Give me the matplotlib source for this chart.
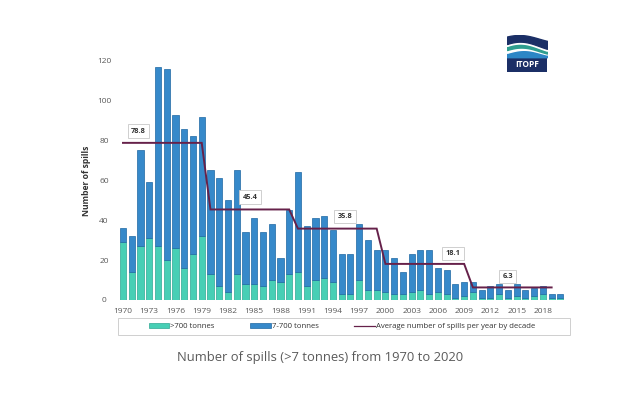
import matplotlib
matplotlib.use("Agg")
import matplotlib.pyplot as plt
from matplotlib.patches import Patch, Rectangle
from matplotlib.lines import Line2D
import numpy as np

plt.rcParams['font.family'] = ['Open Sans', 'DejaVu Sans']

years = list(range(1970, 2021))
totals = [36, 32, 75, 59, 117, 116, 93, 86, 82, 92,
          65, 61, 50, 65, 34, 41, 34, 38, 21, 45,
          64, 37, 41, 42, 35, 23, 23, 38, 30, 25,
          25, 21, 14, 23, 25, 25, 16, 15, 8, 9,
          9, 5, 7, 8, 5, 8, 5, 6, 7, 3,
          3]
large = [29, 14, 27, 31, 27, 20, 26, 16, 23, 32,
         13, 7, 4, 13, 8, 8, 7, 10, 9, 13,
         14, 7, 10, 11, 9, 3, 3, 10, 5, 5,
         4, 3, 3, 4, 5, 3, 4, 3, 1, 2,
         4, 1, 1, 3, 1, 2, 1, 2, 3, 1,
         1]
medium = [t - l for t, l in zip(totals, large)]

decade_starts = [1970, 1980, 1990, 2000, 2010]
decade_avgs = [78.8, 45.4, 35.8, 18.1, 6.3]
label_x = [1971.75, 1984.5, 1995.4, 2007.75, 2014.0]
label_y = [84.7, 51.5, 41.8, 23.4, 11.7]

xtick_years = list(range(1970, 2019, 3))
yticks = [0, 20, 40, 60, 80, 100, 120]

teal = '#47CFB5'
teal_edge = '#2FA893'
blue = '#3689CA'
blue_edge = '#1E68A3'
wine = '#66214A'
gray = '#595959'

fig = plt.figure(figsize=(6.4, 4.03), dpi=100)
W, H = 640, 403
ax = fig.add_axes([118 / W, 1 - 300 / H, (570 - 118) / W, (300 - 60.7) / H])

ax.bar(years, large, width=0.7, color=teal, edgecolor=teal_edge, linewidth=0.5)
ax.bar(years, medium, bottom=large, width=0.7, color=blue, edgecolor=blue_edge, linewidth=0.5)

avg_x, avg_y = [], []
for s, a in zip(decade_starts, decade_avgs):
    for y in range(s, s + 10):
        avg_x.append(y)
        avg_y.append(a)
ax.plot(avg_x, avg_y, color=wine, lw=1.4, solid_joinstyle='miter')

for a, lx, ly in zip(decade_avgs, label_x, label_y):
    ax.text(lx, ly, f"{a:.1f}", ha='center', va='center', fontsize=5.3,
            fontweight='bold', color='#333333',
            bbox=dict(boxstyle='square,pad=0.45', fc='white', ec='#c8c8c8', lw=0.6))

ax.set_xlim(1969.43, 2021.1)
ax.set_ylim(0, 120)
ax.set_xticks(xtick_years)
ax.set_xticklabels([str(y) for y in xtick_years])
ax.set_yticks(yticks)
ax.tick_params(axis='both', length=0, labelsize=6, colors=gray)
ax.tick_params(axis='y', pad=10)
ax.tick_params(axis='x', pad=6)
for t in ax.get_yticklabels():
    t.set_horizontalalignment('center')
for sp in ax.spines.values():
    sp.set_visible(False)
ax.set_ylabel('Number of spills', fontsize=6.2, fontweight='bold', color='#333333')
ax.yaxis.set_label_coords((91 - 118) / 452, 0.5)

# legend frame
fig.patches.append(Rectangle((118 / W, 1 - 335 / H), 452 / W, 17 / H,
                             transform=fig.transFigure, fill=False,
                             edgecolor='#cfcfcf', lw=0.7))
handles = [Patch(facecolor=teal, edgecolor=teal_edge, lw=0.5),
           Patch(facecolor=blue, edgecolor=blue_edge, lw=0.5),
           Line2D([0], [0], color=wine, lw=0.9)]
labels = ['>700 tonnes', '7-700 tonnes', 'Average number of spills per year by decade']
leg = fig.legend(handles, labels, loc='center', ncol=3,
                 bbox_to_anchor=(342 / W, 1 - 326.5 / H), fontsize=5.6,
                 frameon=False, handlelength=2.6, handleheight=0.7,
                 handletextpad=0.15, columnspacing=4.6, labelcolor='#333333')

fig.text(0.5, 1 - 357 / H, 'Number of spills (>7 tonnes) from 1970 to 2020',
         ha='center', va='center', fontsize=9.4, color='#5a5a5a')

# ITOPF logo
lax = fig.add_axes([507 / W, 1 - 72 / H, 40 / W, 37 / H])
lax.set_xlim(0, 1)
lax.set_ylim(0, 1)
lax.axis('off')
xx = np.linspace(0, 1, 50)
lax.add_patch(Rectangle((0, 0), 1, 0.42, color='#1B2F66'))
lax.fill_between(xx, 0.40, 0.56 + 0.08 * np.sin(np.pi * xx * 1.2), color='#2C86C6')
lax.fill_between(xx, 0.52 + 0.08 * np.sin(np.pi * xx * 1.2), 0.60 + 0.10 * np.sin(np.pi * (xx + 0.1) * 1.1), color='white')
lax.fill_between(xx, 0.56 + 0.10 * np.sin(np.pi * (xx + 0.1) * 1.1), 0.68 + 0.12 * np.sin(np.pi * (xx + 0.15) * 1.05), color='#2E9E8F')
lax.fill_between(xx, 0.65 + 0.12 * np.sin(np.pi * (xx + 0.15) * 1.05), 0.72 + 0.12 * np.sin(np.pi * (xx + 0.15) * 1.05), color='white')
lax.fill_between(xx, 0.70 + 0.12 * np.sin(np.pi * (xx + 0.15) * 1.05), np.minimum(1.0, 0.90 + 0.10 * np.sin(np.pi * (xx + 0.2))), color='#1B2F66')
lax.text(0.5, 0.2, 'ITOPF', ha='center', va='center', color='white', fontsize=6, fontweight='bold')

fig.savefig('out.png', dpi=100, facecolor='white')
